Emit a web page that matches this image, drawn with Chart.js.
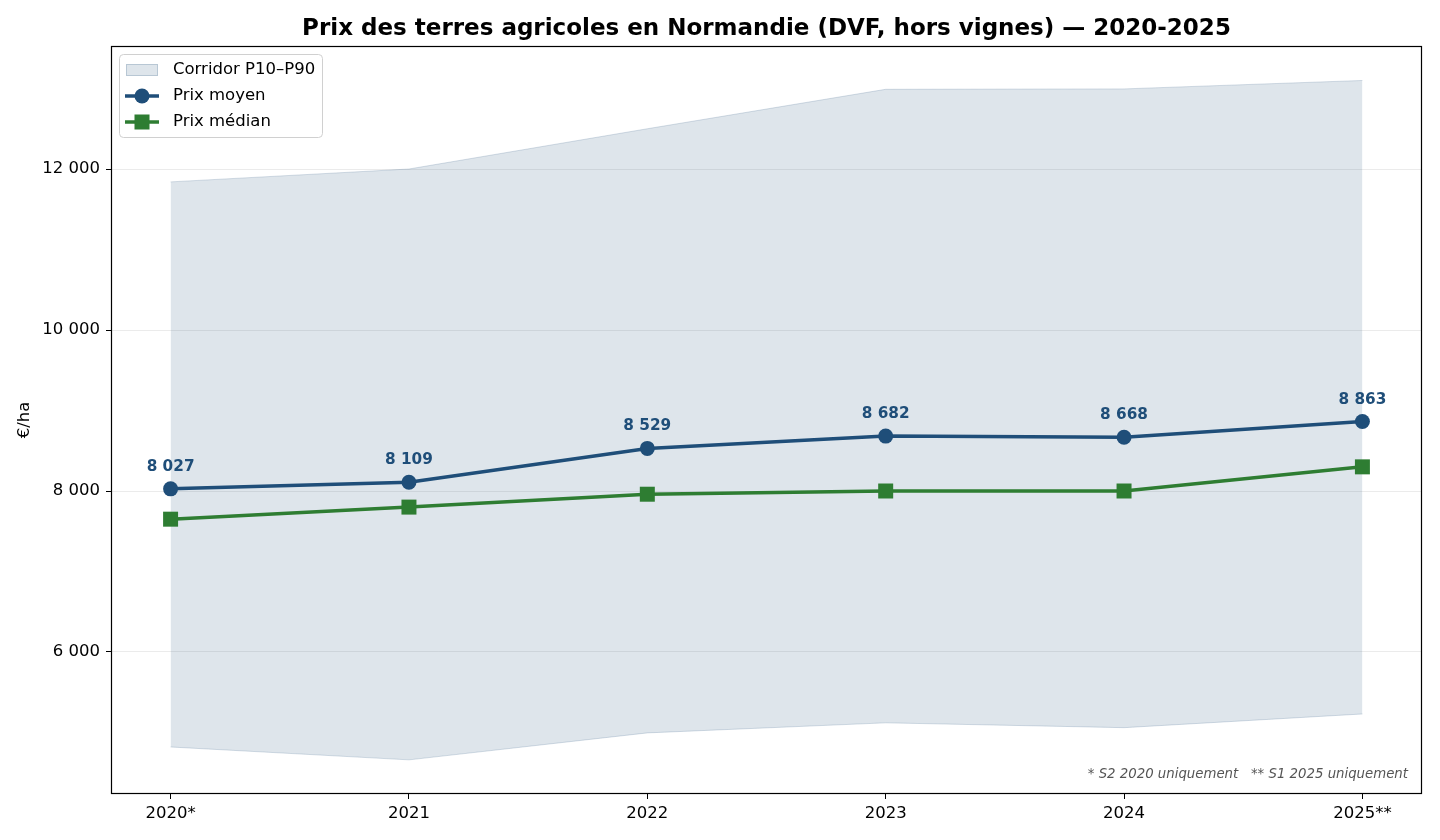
<!DOCTYPE html>
<html lang="fr">
<head>
<meta charset="UTF-8">
<title>Prix des terres agricoles en Normandie</title>
<script src="https://cdn.jsdelivr.net/npm/chart.js"></script>
<style>
  html, body { margin: 0; padding: 0; background: #fff; }
  .wrap { width: 1440px; height: 840px; position: relative; }
</style>
</head>
<body>
<div class="wrap"><canvas id="chart" width="1440" height="840"></canvas></div>
<script>
// data
const years = ['2020*', '2021', '2022', '2023', '2024', '2025**'];
const prixMoyen = [8027, 8109, 8529, 8682, 8668, 8863];
const prixMedian = [7650, 7800, 7960, 8000, 8000, 8300];
const p10 = [4820, 4660, 4995, 5120, 5060, 5230];
const p90 = [11840, 12000, 12500, 12990, 12995, 13100];
const yTicks = [6000, 8000, 10000, 12000];

const blue = '#1f4e79';
const green = '#2e7d32';
const FONT = '"DejaVu Sans", sans-serif';

const fmt = v => String(Math.round(v)).replace(/\B(?=(\d{3})+(?!\d))/g, ' ');
const pts = arr => arr.map((v, i) => ({ x: i, y: v }));

// frame, title, labels, legend, footnote
const decor = {
  id: 'decor',
  afterDraw(chart) {
    const { ctx, chartArea: a } = chart;
    ctx.save();
    ctx.strokeStyle = '#000';
    ctx.lineWidth = 1.2;
    ctx.strokeRect(a.left + 0.5, a.top + 0.5, a.right - a.left - 1, a.bottom - a.top - 1);

    // title
    ctx.fillStyle = '#000';
    ctx.font = 'bold 23px ' + FONT;
    ctx.textAlign = 'center';
    ctx.textBaseline = 'middle';
    ctx.fillText('Prix des terres agricoles en Normandie (DVF, hors vignes) — 2020-2025', (a.left + a.right) / 2, 29);

    // y axis title
    ctx.save();
    ctx.translate(25, (a.top + a.bottom) / 2);
    ctx.rotate(-Math.PI / 2);
    ctx.font = '16.5px ' + FONT;
    ctx.fillText('€/ha', 0, 0);
    ctx.restore();

    // value labels above mean points
    const meta = chart.getDatasetMeta(0);
    ctx.font = 'bold 15.3px ' + FONT;
    ctx.fillStyle = blue;
    meta.data.forEach((p, i) => {
      ctx.fillText(fmt(prixMoyen[i]), p.x, p.y - 22);
    });

    // footnote
    ctx.font = 'italic 13.3px ' + FONT;
    ctx.fillStyle = '#555';
    ctx.textAlign = 'right';
    ctx.fillText('* S2 2020 uniquement   ** S1 2025 uniquement', a.right - 14, 775);

    // legend
    const lx = a.left + 8, ly = a.top + 8, lw = 203, lh = 83;
    ctx.beginPath();
    ctx.roundRect(lx + 0.5, ly + 0.5, lw, lh, 4);
    ctx.fillStyle = 'rgba(255,255,255,0.85)';
    ctx.fill();
    ctx.strokeStyle = '#d0d0d0';
    ctx.lineWidth = 1;
    ctx.stroke();

    ctx.font = '16.5px ' + FONT;
    ctx.textAlign = 'left';
    const rows = [ly + 16, ly + 42, ly + 68];
    // corridor patch
    ctx.fillStyle = 'rgba(31,78,121,0.15)';
    ctx.fillRect(lx + 7, rows[0] - 6, 32, 12);
    ctx.strokeStyle = 'rgba(31,78,121,0.2)';
    ctx.strokeRect(lx + 7.5, rows[0] - 5.5, 31, 11);
    ctx.fillStyle = '#000';
    ctx.fillText('Corridor P10–P90', lx + 54, rows[0]);
    // mean
    ctx.strokeStyle = blue; ctx.lineWidth = 3.5;
    ctx.beginPath(); ctx.moveTo(lx + 6, rows[1]); ctx.lineTo(lx + 40, rows[1]); ctx.stroke();
    ctx.fillStyle = blue;
    ctx.beginPath(); ctx.arc(lx + 23, rows[1], 7.5, 0, Math.PI * 2); ctx.fill();
    ctx.fillStyle = '#000';
    ctx.fillText('Prix moyen', lx + 54, rows[1]);
    // median
    ctx.strokeStyle = green;
    ctx.beginPath(); ctx.moveTo(lx + 6, rows[2]); ctx.lineTo(lx + 40, rows[2]); ctx.stroke();
    ctx.fillStyle = green;
    ctx.fillRect(lx + 15.5, rows[2] - 7.5, 15, 15);
    ctx.fillStyle = '#000';
    ctx.fillText('Prix médian', lx + 54, rows[2]);
    ctx.restore();
  }
};

const ctx = document.getElementById('chart').getContext('2d');
new Chart(ctx, {
  type: 'line',
  data: {
    datasets: [
      {
        label: 'Prix moyen',
        data: pts(prixMoyen),
        borderColor: blue,
        backgroundColor: blue,
        borderWidth: 3.5,
        pointRadius: 7.5,
        pointHoverRadius: 7.5,
        pointBorderWidth: 0,
        tension: 0,
        fill: false,
        order: 1
      },
      {
        label: 'Prix médian',
        data: pts(prixMedian),
        borderColor: green,
        backgroundColor: green,
        borderWidth: 3.5,
        pointStyle: 'rect',
        pointRadius: 10.6,
        pointHoverRadius: 10.6,
        pointBorderWidth: 0,
        tension: 0,
        fill: false,
        order: 2
      },
      {
        label: 'Corridor P10–P90',
        data: pts(p90),
        borderColor: 'rgba(31,78,121,0.18)',
        backgroundColor: 'rgba(31,78,121,0.15)',
        borderWidth: 1,
        pointRadius: 0,
        tension: 0,
        fill: 3,
        order: 3
      },
      {
        label: 'P10',
        data: pts(p10),
        borderColor: 'rgba(31,78,121,0.18)',
        borderWidth: 1,
        pointRadius: 0,
        tension: 0,
        fill: false,
        order: 4
      }
    ]
  },
  options: {
    responsive: false,
    animation: false,
    devicePixelRatio: 1,
    layout: { padding: { top: 46, right: 18, left: 0, bottom: 0 } },
    plugins: {
      legend: { display: false },
      tooltip: { enabled: false },
      title: { display: false }
    },
    scales: {
      x: {
        type: 'linear',
        min: -0.25,
        max: 5.25,
        afterBuildTicks: s => { s.ticks = years.map((_, i) => ({ value: i })); },
        afterFit: s => { s.height = 46; },
        ticks: {
          callback: v => years[v],
          color: '#000',
          font: { family: FONT, size: 16.5 },
          padding: 5,
          maxRotation: 0,
          autoSkip: false
        },
        grid: { drawOnChartArea: false, tickLength: 5, tickColor: '#000' },
        border: { display: false }
      },
      y: {
        min: 4236,
        max: 13528,
        afterBuildTicks: s => { s.ticks = yTicks.map(v => ({ value: v })); },
        afterFit: s => { s.width = 111; },
        ticks: {
          callback: v => fmt(v),
          color: '#000',
          font: { family: FONT, size: 16.5 },
          padding: 6
        },
        grid: { color: 'rgba(0,0,0,0.08)', tickLength: 5, tickColor: '#000' },
        border: { display: false }
      }
    }
  },
  plugins: [decor]
});
</script>
</body>
</html>
